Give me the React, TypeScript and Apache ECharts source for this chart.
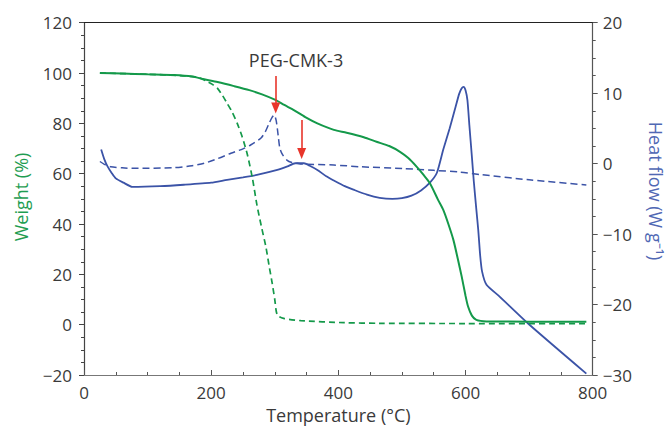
import React, { useEffect, useRef } from "react";
import * as echarts from "echarts";

// Weight (%) vs Temperature (°C)
const weightCMK: [number, number][] = [
  [25, 100], [60, 99.8], [100, 99.5], [141, 99.2], [170, 98.6], [189, 97.5], [210, 96.4],
  [236, 94.8], [260, 93.2], [280, 91.5], [301, 89.3], [315, 87.3], [330, 85.3], [348, 82.5],
  [367, 80], [393, 77.4], [413, 76.3], [440, 74.5], [460, 72.7], [480, 71], [497, 68.7],
  [510, 66.2], [523, 62.8], [534, 59.5], [544, 56.2], [557, 49.5], [565, 45.6], [573, 40],
  [581, 33.6], [588, 26], [594, 19.1], [600, 11.5], [604, 7.2], [610, 3.6], [617, 1.9],
  [633, 1.3], [700, 1.2], [790, 1.2],
];
const weightPEG: [number, number][] = [
  [25, 100], [100, 99.5], [150, 99], [180, 98.2], [194, 96.6], [202, 95.5], [210, 93.9],
  [218, 91], [225, 88], [233, 84.5], [241, 80], [249, 74.5], [257, 67.5], [265, 58],
  [272, 47.5], [279, 39], [286, 31], [291, 23.5], [296, 16.4], [300, 10], [304, 3.8],
  [314, 2.5], [341, 1.6], [409, 0.8], [465, 0.55], [600, 0.45], [790, 0.4],
];
// Heat flow (W g-1) vs Temperature (°C)
const heatCMK: [number, number][] = [
  [27, 2], [32, 0.6], [37, -0.4], [44, -1.4], [50, -2.1], [62, -2.7], [76, -3.3], [120, -3.2],
  [157, -3.0], [200, -2.7], [225, -2.3], [250, -1.95], [272, -1.6], [304, -0.9], [320, -0.4],
  [332, 0.05], [346, 0.05], [355, -0.3], [367, -0.9], [381, -1.8], [393, -2.4], [410, -3.2],
  [424, -3.7], [445, -4.4], [465, -4.85], [485, -5.0], [500, -4.9], [515, -4.55], [530, -3.8],
  [544, -2.7], [555, -1.3], [565, 2.0], [575, 5.0], [583, 7.6], [590, 9.9], [594, 10.7],
  [597, 10.9], [600, 10.4], [603, 9.0], [606, 5.5], [610, 1.0], [613, -2.5], [617, -6.5],
  [620, -9.4], [623, -13], [626, -15.3], [633, -17.2], [654, -18.9], [701, -22.9], [790, -29.8],
];
const heatPEG: [number, number][] = [
  [25, 0.3], [32, -0.1], [42, -0.45], [60, -0.6], [79, -0.67], [141, -0.58], [170, -0.3],
  [189, 0.05], [210, 0.7], [231, 1.47], [250, 2.1], [262, 2.64], [278, 3.6], [285, 4.5],
  [291, 5.7], [296, 6.6], [299, 6.9], [302, 6.2], [304, 5.0], [306, 3.5], [308, 2.2],
  [312, 1.3], [319, 0.5], [327, 0.15], [335, 0.05], [340, -0.05], [393, -0.2], [434, -0.44],
  [502, -0.7], [550, -0.95], [591, -1.2], [623, -1.55], [700, -2.3], [790, -3.03],
];
// Arrow annotations: [temperature, weight start, weight end]
const arrows: [number, number, number][] = [
  [301.5, 98.8, 86.1],
  [342.3, 81.3, 68.0],
];
const annotationText = "PEG-CMK-3";

const GREEN = "#14994a";
const BLUE = "#3b53a7";
const RED = "#e8352b";
const TXT = "#3a3a3a";
const FONT = "Open Sans";

const fmt = (v: number) => (v < 0 ? "\u2212" + -v : String(v));

export default function App() {
  const ref = useRef<HTMLDivElement>(null);
  useEffect(() => {
    if (!ref.current) return;
    const chart = echarts.init(ref.current, undefined, { renderer: "svg" });
    chart.setOption({
      animation: false,
      textStyle: { fontFamily: FONT },
      grid: { left: 84, right: 74.3, top: 22.7, bottom: 55 },
      xAxis: [
        {
          type: "value",
          min: 0,
          max: 800,
          interval: 200,
          name: "Temperature (°C)",
          nameLocation: "middle",
          nameGap: 26,
          nameTextStyle: { fontSize: 18, color: TXT, fontFamily: FONT },
          axisLine: { show: true, onZero: false, lineStyle: { color: "#777", width: 1.2 } },
          axisTick: { show: true, inside: true, length: 5, lineStyle: { color: "#555" } },
          minorTick: { show: true, splitNumber: 4, length: 3, lineStyle: { color: "#555" } },
          axisLabel: { fontSize: 17, color: TXT, margin: 9, fontFamily: FONT },
          splitLine: { show: false },
        },
        {
          type: "value",
          position: "top",
          min: 0,
          max: 800,
          axisLine: { show: true, onZero: false, lineStyle: { color: "#222", width: 1.2 } },
          axisTick: { show: false },
          axisLabel: { show: false },
          splitLine: { show: false },
        },
      ],
      yAxis: [
        {
          type: "value",
          min: -20,
          max: 120,
          interval: 20,
          position: "left",
          axisLine: { show: true, onZero: false, lineStyle: { color: "#444", width: 1.2 } },
          axisTick: { show: true, length: 5, lineStyle: { color: "#444" } },
          minorTick: { show: true, splitNumber: 4, length: 3, lineStyle: { color: "#444" } },
          axisLabel: { fontSize: 17, color: TXT, margin: 12, formatter: fmt, fontFamily: FONT },
          splitLine: { show: false },
        },
        {
          type: "value",
          min: -30,
          max: 20,
          interval: 10,
          position: "right",
          axisLine: { show: true, onZero: false, lineStyle: { color: "#555", width: 1.2 } },
          axisTick: { show: true, length: 5, lineStyle: { color: "#555" } },
          minorTick: { show: true, splitNumber: 4, length: 3, lineStyle: { color: "#555" } },
          axisLabel: { fontSize: 17, color: TXT, margin: 10, formatter: fmt, fontFamily: FONT },
          splitLine: { show: false },
        },
      ],
      graphic: [
        {
          type: "text",
          x: 21,
          y: 197,
          rotation: Math.PI / 2,
          style: {
            text: "Weight (%)",
            fill: "#1f9d52",
            fontSize: 18,
            fontFamily: FONT,
            align: "center",
            verticalAlign: "middle",
          },
        },
        {
          type: "text",
          x: 656,
          y: 191,
          rotation: -Math.PI / 2,
          style: {
            text: "Heat flow (W g\u207B\u00B9)",
            fill: "#5068b4",
            fontSize: 18,
            fontFamily: FONT,
            align: "center",
            verticalAlign: "middle",
          },
        },
        {
          type: "text",
          x: 296,
          y: 60,
          style: {
            text: annotationText,
            fill: TXT,
            fontSize: 18,
            fontFamily: FONT,
            align: "center",
            verticalAlign: "middle",
          },
        },
      ],
      series: [
        {
          type: "line",
          name: "TGA CMK-3",
          xAxisIndex: 0,
          yAxisIndex: 0,
          data: weightCMK,
          showSymbol: false,
          smooth: 0.25,
          lineStyle: { color: GREEN, width: 2 },
          z: 3,
          markLine: {
            silent: true,
            symbol: ["none", "triangle"],
            symbolSize: [9, 11],
            label: { show: false },
            lineStyle: { color: RED, width: 1.6, type: "solid" },
            data: arrows.map(([t, a, b]) => [
              { coord: [t, a] },
              { coord: [t, b] },
            ]),
          },
        },
        {
          type: "line",
          name: "TGA PEG-CMK-3",
          xAxisIndex: 0,
          yAxisIndex: 0,
          data: weightPEG,
          showSymbol: false,
          smooth: 0.25,
          lineStyle: { color: GREEN, width: 1.7, type: [6, 4] },
          z: 3,
        },
        {
          type: "line",
          name: "DSC CMK-3",
          xAxisIndex: 0,
          yAxisIndex: 1,
          data: heatCMK,
          showSymbol: false,
          smooth: 0.2,
          lineStyle: { color: BLUE, width: 1.8 },
          z: 2,
        },
        {
          type: "line",
          name: "DSC PEG-CMK-3",
          xAxisIndex: 0,
          yAxisIndex: 1,
          data: heatPEG,
          showSymbol: false,
          smooth: 0.25,
          lineStyle: { color: BLUE, width: 1.5, type: [7, 4] },
          z: 2,
        },
      ],
    });
    return () => chart.dispose();
  }, []);
  return (
    <div
      ref={ref}
      style={{ position: "absolute", left: 0, top: 0, width: 667, height: 430, background: "#fff" }}
    />
  );
}
